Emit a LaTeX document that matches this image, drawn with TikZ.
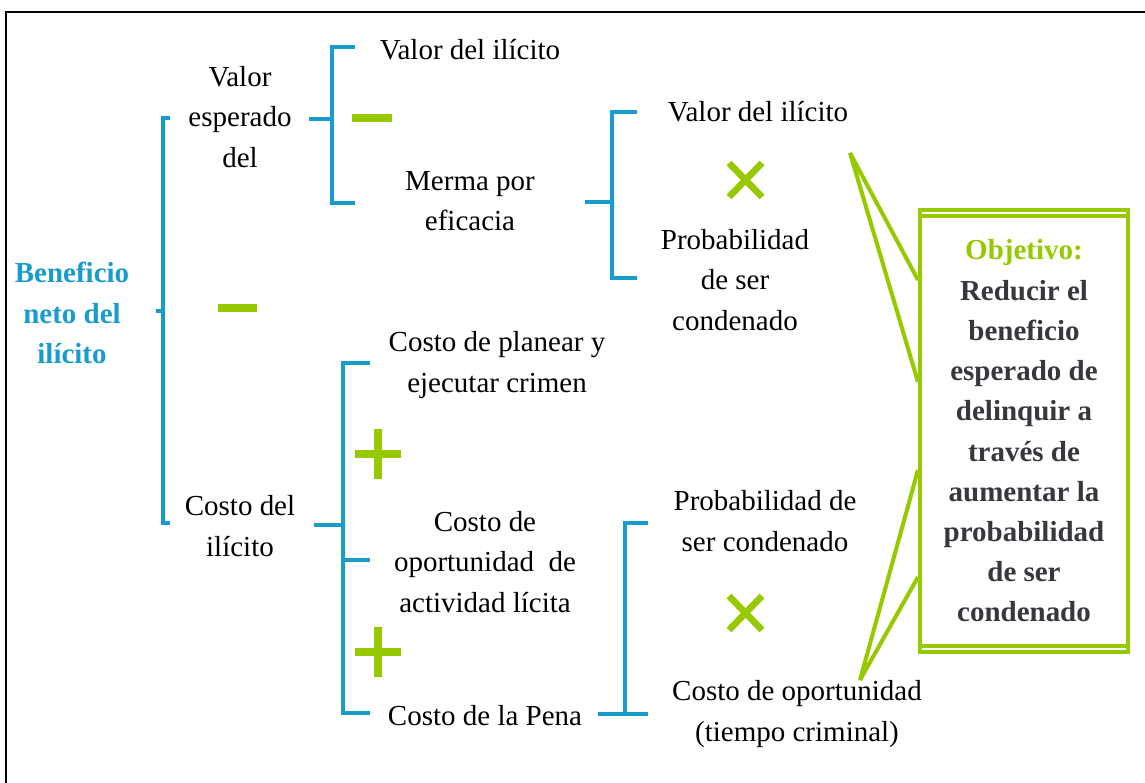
\documentclass[tikz,border=0pt]{standalone}
\usepackage{fontspec}
\setmainfont{Liberation Serif}
\usepackage{tikz}
\usetikzlibrary{calc}
\usepackage{xcolor}

\definecolor{brblue}{RGB}{24,156,206}
\definecolor{limegr}{RGB}{150,201,0}
\definecolor{boxtext}{RGB}{55,55,62}
\newcommand{\diagfont}{\fontsize{16.5}{22.9}\selectfont}

\begin{document}
\begin{tikzpicture}[x=0.02cm,y=-0.02cm,
    txt/.style={align=center,font=\diagfont,inner sep=2pt},
    brk/.style={draw=brblue,line width=2.8pt},
    sgn/.style={draw=limegr,line width=4.4pt},
    call/.style={draw=limegr,line width=2.3pt,line join=bevel},
    objbox/.style={draw=limegr,line width=2.3pt,minimum width=208*0.02cm,minimum height=442*0.02cm,
        align=center,font=\diagfont\bfseries,text=boxtext}]
        \useasboundingbox (0,0) rectangle (1145,783);
        \draw[line width=1.4pt] (6,783) -- (6,12) -- (1145,12);

        % text nodes
        \node[txt,font=\diagfont\bfseries,text=brblue] (ben) at (72,313) {Beneficio\\neto del\\ilícito};
        \node[txt] (vesp) at (240,117) {Valor\\esperado\\del};
        \node[txt] (val1) at (470,50) {Valor del ilícito};
        \node[txt] (merma) at (470,201) {Merma por\\eficacia};
        \node[txt] (val2) at (758,112) {Valor del ilícito};
        \node[txt] (prob1) at (735,280) {Probabilidad\\de ser\\condenado};
        \node[txt] (cdel) at (240,526) {Costo del\\ilícito};
        \node[txt] (plan) at (497,365) {Costo de planear y\\ejecutar crimen};
        \node[txt] (oport) at (485,562) {Costo de\\oportunidad\ \ de\\actividad lícita};
        \node[txt] (pena) at (485,716) {Costo de la Pena};
        \node[txt] (prob2) at (765,521) {Probabilidad de\\ser condenado};
        \node[txt] (ctiempo) at (797,714) {Costo de oportunidad\\(tiempo criminal)};

        % brackets
        \coordinate (j1) at (163,311);
        \coordinate (j2) at (332,119);
        \coordinate (j3) at (612,202);
        \coordinate (j4) at (343,525);
        \coordinate (j5) at (625,714);
        \draw[brk] (j1) -- ++(-7,0);
        \draw[brk] (170,118) -| (j1) |- (170,523);
        \draw[brk] ($(vesp.east |- j2)+(14,0)$) -- (j2);
        \draw[brk] (355,47) -| (j2) |- (355,203);
        \draw[brk] (585,202) -- (j3);
        \draw[brk] (637,112) -| (j3) |- (637,278);
        \draw[brk] (314,525) -- (j4);
        \draw[brk] (370,363) -| (j4) |- (370,713);
        \draw[brk] (j4 |- 0,560) -- (370,560);
        \draw[brk] ($(pena.east |- j5)+(12,0)$) -- (j5);
        \draw[brk] (648,523) -| (j5) -- (648,714);

        % signs
        \draw[sgn] (352,118) -- (392,118);
        \draw[sgn] (218,308) -- (257,308);
        \foreach \y in {454,652}
        {
            \draw[sgn] (355,\y) -- (401,\y);
            \draw[sgn] (378,\y-25) -- (378,\y+25);
        }
        \foreach \y in {180,613}
        {
            \draw[sgn,line width=3.8pt] (729,\y-17) -- (762,\y+17);
            \draw[sgn,line width=3.8pt] (729,\y+17) -- (762,\y-17);
        }

        % objective box
        \node[objbox] (obj) at (1024,431) {\textcolor{limegr}{Objetivo:}\\Reducir el\\beneficio\\esperado de\\delinquir a\\través de\\aumentar la\\probabilidad\\de ser\\condenado};
        \draw[limegr,line width=1.8pt] ($(obj.north west)+(0,8)$) -- ($(obj.north east)+(0,8)$);
        \draw[limegr,line width=1.8pt] ($(obj.south west)+(0,-8)$) -- ($(obj.south east)+(0,-8)$);

        % callouts
        \coordinate (tipA) at (850,153);
        \coordinate (tipB) at (860,680);
        \draw[call] (obj.west |- 0,280) -- (tipA) -- (obj.west |- 0,382);
        \draw[call] (obj.west |- 0,470) -- (tipB) -- (obj.west |- 0,577);
    \end{tikzpicture}
\end{document}
